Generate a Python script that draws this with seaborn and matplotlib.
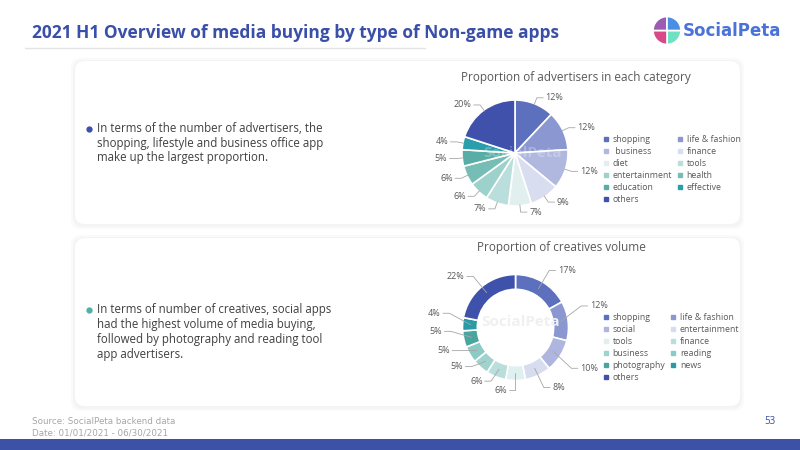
import matplotlib
matplotlib.use("Agg")
import matplotlib.pyplot as plt
import numpy as np
import seaborn as sns
from matplotlib.lines import Line2D
from matplotlib.patches import FancyBboxPatch, Rectangle, Wedge

sns.set_theme(style="white")
plt.rcParams['font.family'] = ['Open Sans', 'DejaVu Sans']

# advertisers share by category (%)
adv_labels = ["shopping", "life & fashion", " business", "finance", "diet", "tools",
              "entertainment", "health", "education", "effective", "others"]
adv_share = [12, 12, 12, 9, 7, 7, 6, 6, 5, 4, 20]
adv_colors = ["#5c70bd", "#8a97d1", "#b0b8e0", "#d9ddf0", "#e1f0ef", "#badedb",
              "#9dd1cc", "#76bdb5", "#58ada5", "#2a9eaa", "#3f51ab"]

# creatives volume share (%)
cre_labels = ["shopping", "life & fashion", "social", "entertainment", "tools", "finance",
              "business", "reading", "photography", "news", "others"]
cre_share = [17, 12, 10, 8, 6, 6, 5, 5, 5, 4, 22]
cre_colors = ["#5c70bd", "#8a97d1", "#aeb6df", "#d8dcef", "#e0efef", "#badedb",
              "#a0d3ce", "#8ccbc5", "#4aa59e", "#2a9aa8", "#3e51ab"]

# vertical nudges of the donut's percentage labels (radius units)
cre_nudge = [0, 0.25, -0.1, 0, 0.07, 0.15, 0.2, 0.2, 0.2, 0.19, 0]

BLUE = "#3a4fa8"
GREY = "#595959"

fig = plt.figure(figsize=(8, 4.5), dpi=100)
fig.patch.set_facecolor("white")

# background axes in pixel coordinates
bg = fig.add_axes([0, 0, 1, 1])
bg.set_xlim(0, 800)
bg.set_ylim(450, 0)
bg.axis("off")


def card(x0, y0, x1, y1):
    for pad, col in [(4, "#fafafa"), (2, "#f4f4f4")]:
        bg.add_patch(FancyBboxPatch((x0, y0 + 1), x1 - x0, y1 - y0,
                                    boxstyle=f"round,pad={pad},rounding_size=10",
                                    fc=col, ec="none"))
    bg.add_patch(FancyBboxPatch((x0, y0), x1 - x0, y1 - y0,
                                boxstyle="round,pad=0,rounding_size=10",
                                fc="white", ec="none"))


card(75, 61, 740, 224)
card(75, 238, 740, 406)

# header
bg.text(32, 33, "2021 H1 Overview of media buying by type of Non-game apps",
        fontsize=12.5, fontweight="bold", color=BLUE, va="center", ha="left")
bg.plot([25, 425], [47.5, 47.5], color="#e4e4e4", lw=1)

# logo
for t1, t2, col in [(0, 90, "#6fe0c2"), (90, 180, "#d8498c"),
                    (180, 270, "#9c5cb4"), (270, 360, "#4a8fe3")]:
    bg.add_patch(Wedge((667, 30.5), 14, t1, t2, fc=col, ec="white", lw=1.2))
bg.text(683, 31, "SocialPeta", fontsize=12, fontweight="bold", color="#4a72d8",
        va="center", ha="left", family=["DejaVu Sans Condensed", "DejaVu Sans"])

# bullet texts
bg.plot(89, 129, "o", color=BLUE, ms=3.5)
bg.text(97, 143, "In terms of the number of advertisers, the\n"
                 "shopping, lifestyle and business office app\n"
                 "make up the largest proportion.",
        fontsize=8.3, color="#404040", va="center", ha="left", linespacing=1.2)
bg.plot(89, 310, "o", color="#4fb0a6", ms=3.5)
bg.text(97, 332, "In terms of number of creatives, social apps\n"
                 "had the highest volume of media buying,\n"
                 "followed by photography and reading tool\n"
                 "app advertisers.",
        fontsize=8.3, color="#404040", va="center", ha="left", linespacing=1.2)

# chart titles
bg.text(576, 77, "Proportion of advertisers in each category", fontsize=8.5,
        color=GREY, ha="center", va="center")
bg.text(561, 248, "Proportion of creatives volume", fontsize=8.5,
        color=GREY, ha="center", va="center")

# footer
bg.text(32, 422, "Source: SocialPeta backend data", fontsize=6.3, color="#a6a6a6",
        va="center", family=["DejaVu Sans Condensed", "DejaVu Sans"])
bg.text(32, 433, "Date: 01/01/2021 - 06/30/2021", fontsize=6.3, color="#a6a6a6",
        va="center", family=["DejaVu Sans Condensed", "DejaVu Sans"])
bg.text(770, 422, "53", fontsize=7, color=BLUE, va="center", ha="center")
bg.add_patch(Rectangle((0, 439), 800, 11, fc="#3c52a6", ec="none"))


def pie_axes(cx, cy, r, half=110):
    ax = fig.add_axes([(cx - half) / 800, (450 - cy - half) / 450,
                       2 * half / 800, 2 * half / 450])
    return ax, half / r


def add_labels(ax, wedges, shares, r0, r1, nudge=None):
    if nudge is None:
        nudge = [0] * len(shares)
    for w, v, dy in zip(wedges, shares, nudge):
        a = np.deg2rad((w.theta1 + w.theta2) / 2)
        c, s = np.cos(a), np.sin(a)
        side = 1 if c >= 0 else -1
        x1, y1 = r1 * c, r1 * s + dy
        x2 = x1 + side * 0.12
        ax.plot([r0 * c, x1, x2], [r0 * s, y1, y1], color="#a6a6a6", lw=0.6)
        ax.text(x2 + side * 0.04, y1, f"{v}%", ha="left" if side > 0 else "right",
                va="center", fontsize=6.5, color=GREY)


def add_legend(wedges, labels, x, y):
    handles = [Line2D([], [], marker="s", ls="none", ms=3.2, color=w.get_facecolor())
               for w in wedges]
    order = list(range(0, len(labels), 2)) + list(range(1, len(labels), 2))
    fig.legend([handles[i] for i in order], [labels[i] for i in order],
               loc="upper left", bbox_to_anchor=(x / 800, 1 - y / 450), ncol=2,
               frameon=False, fontsize=6.3, labelcolor=GREY, handlelength=0.6,
               handletextpad=0.5, columnspacing=0.55, labelspacing=0.35,
               borderpad=0, borderaxespad=0)


# pie 1
ax1, lim1 = pie_axes(515, 153, 53)
w1, _ = ax1.pie(adv_share, colors=adv_colors, startangle=90, counterclock=False,
                wedgeprops=dict(edgecolor="white", linewidth=1.2))
ax1.set_xlim(-lim1, lim1)
ax1.set_ylim(-lim1, lim1)
ax1.axis("off")
add_labels(ax1, w1, adv_share, 0.98, 1.12)
ax1.text(0.15, 0, "SocialPeta", fontsize=11, fontweight="bold", color="white",
         alpha=0.25, ha="center", va="center")
add_legend(w1, adv_labels, 603, 135)

# pie 2 (donut)
ax2, lim2 = pie_axes(515.5, 327.5, 53)
w2, _ = ax2.pie(cre_share, colors=cre_colors, startangle=90, counterclock=False,
                wedgeprops=dict(edgecolor="white", linewidth=1.2, width=0.28))
ax2.set_xlim(-lim2, lim2)
ax2.set_ylim(-lim2, lim2)
ax2.axis("off")
add_labels(ax2, w2, cre_share, 0.85, 1.25, cre_nudge)
ax2.text(0.1, 0.1, "SocialPeta", fontsize=11, fontweight="bold", color="#f0f0f0",
         ha="center", va="center")
add_legend(w2, cre_labels, 603, 313)

fig.savefig("out.png", dpi=100)
